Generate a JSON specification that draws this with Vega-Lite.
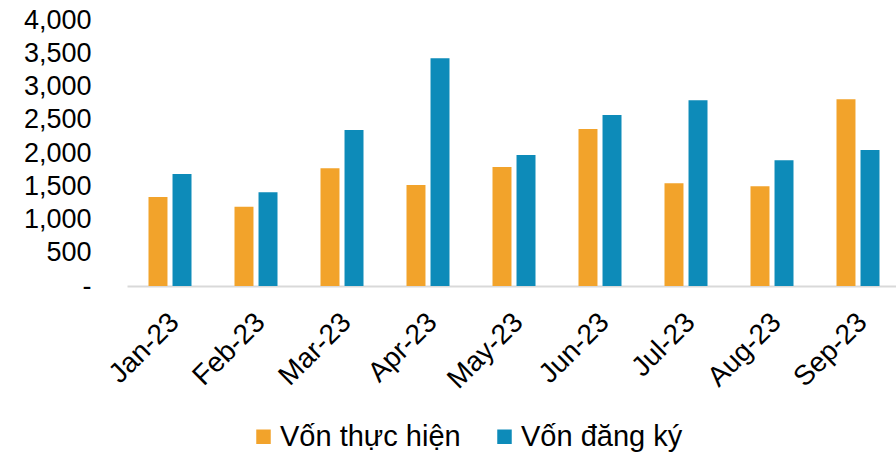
{
  "$schema": "https://vega.github.io/schema/vega-lite/v6.json",
  "width": 774,
  "height": 266,
  "autosize": {"type": "none"},
  "padding": {"left": 127, "top": 20, "right": 0, "bottom": 169},
  "background": "white",
  "config": {
    "font": "Liberation Sans",
    "view": {"stroke": null},
    "axis": {"grid": false, "ticks": false, "labelColor": "#000000", "labelFont": "Liberation Sans"}
  },
  "data": {
    "values": [
      {"month": "Jan-23", "series": "Vốn thực hiện", "value": 1340},
      {"month": "Jan-23", "series": "Vốn đăng ký", "value": 1685},
      {"month": "Feb-23", "series": "Vốn thực hiện", "value": 1190},
      {"month": "Feb-23", "series": "Vốn đăng ký", "value": 1410},
      {"month": "Mar-23", "series": "Vốn thực hiện", "value": 1770},
      {"month": "Mar-23", "series": "Vốn đăng ký", "value": 2345},
      {"month": "Apr-23", "series": "Vốn thực hiện", "value": 1520},
      {"month": "Apr-23", "series": "Vốn đăng ký", "value": 3425},
      {"month": "May-23", "series": "Vốn thực hiện", "value": 1790},
      {"month": "May-23", "series": "Vốn đăng ký", "value": 1970},
      {"month": "Jun-23", "series": "Vốn thực hiện", "value": 2360},
      {"month": "Jun-23", "series": "Vốn đăng ký", "value": 2570},
      {"month": "Jul-23", "series": "Vốn thực hiện", "value": 1545},
      {"month": "Jul-23", "series": "Vốn đăng ký", "value": 2795},
      {"month": "Aug-23", "series": "Vốn thực hiện", "value": 1500},
      {"month": "Aug-23", "series": "Vốn đăng ký", "value": 1890},
      {"month": "Sep-23", "series": "Vốn thực hiện", "value": 2810},
      {"month": "Sep-23", "series": "Vốn đăng ký", "value": 2045}
    ]
  },
  "mark": {"type": "bar"},
  "encoding": {
    "x": {
      "field": "month",
      "type": "nominal",
      "sort": ["Jan-23", "Feb-23", "Mar-23", "Apr-23", "May-23", "Jun-23", "Jul-23", "Aug-23", "Sep-23"],
      "scale": {"paddingInner": 0.5, "paddingOuter": 0.25},
      "axis": {
        "title": null,
        "labelAngle": -45,
        "labelFontSize": 28,
        "labelPadding": 22,
        "labelOffset": -5,
        "domainColor": "#D9D9D9",
        "domainWidth": 2
      }
    },
    "xOffset": {
      "field": "series",
      "sort": ["Vốn thực hiện", "Vốn đăng ký"],
      "scale": {"paddingInner": 0.21}
    },
    "y": {
      "field": "value",
      "type": "quantitative",
      "scale": {"domain": [0, 4000]},
      "axis": {
        "title": null,
        "values": [0, 500, 1000, 1500, 2000, 2500, 3000, 3500, 4000],
        "labelExpr": "datum.value == 0 ? '-\u00a0\u00a0' : format(datum.value, ',')",
        "labelFontSize": 27,
        "labelPadding": 36,
        "domain": false
      }
    },
    "color": {
      "field": "series",
      "type": "nominal",
      "scale": {"domain": ["Vốn thực hiện", "Vốn đăng ký"], "range": ["#F2A32B", "#0D8BB9"]},
      "legend": {
        "title": null,
        "orient": "none",
        "direction": "horizontal",
        "legendX": 122,
        "legendY": 402,
        "symbolType": "square",
        "symbolSize": 210,
        "symbolStrokeWidth": 0,
        "labelFontSize": 29,
        "labelColor": "#000000",
        "labelOffset": 2,
        "columnPadding": 29,
        "labelLimit": 400
      }
    }
  }
}
